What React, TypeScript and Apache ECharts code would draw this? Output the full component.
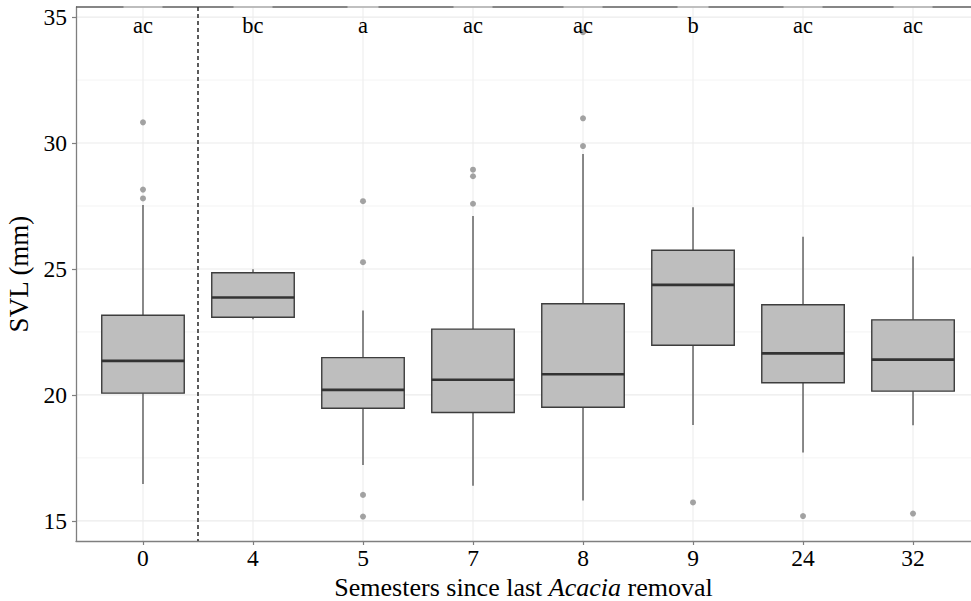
import React, { useEffect, useRef } from "react";
import * as echarts from "echarts";

const categories = ["0", "4", "5", "7", "8", "9", "24", "32"];
const whiskerLow = [16.46, 23.0, 17.22, 16.39, 15.81, 18.81, 17.71, 18.8];
const q1 = [20.07, 23.08, 19.47, 19.3, 19.51, 21.97, 20.48, 20.15];
const median = [21.35, 23.87, 20.2, 20.6, 20.82, 24.37, 21.65, 21.4];
const q3 = [23.16, 24.85, 21.48, 22.61, 23.62, 25.74, 23.58, 22.98];
const whiskerHigh = [27.54, 24.99, 23.35, 27.1, 29.56, 27.45, 26.28, 25.49];
const outliers: [number, number][] = [
  [0, 30.82], [0, 28.15], [0, 27.8],
  [2, 27.69], [2, 25.27], [2, 16.03], [2, 15.17],
  [3, 28.94], [3, 28.68], [3, 27.59],
  [4, 34.4], [4, 30.98], [4, 29.88],
  [5, 15.73],
  [6, 15.19],
  [7, 15.29],
];
const letters = ["ac", "bc", "a", "ac", "ac", "b", "ac", "ac"];
const yTickValues = [15, 20, 25, 30, 35];
const yMinorGrid = [17.5, 22.5, 27.5, 32.5];
const separatorAt = 0.5;

const X_MIN = -0.609;
const X_MAX = 7.527;
const Y_MIN = 14.2;
const Y_MAX = 35.4;
const FONT = '"Liberation Serif", "DejaVu Serif", serif';

export default function App() {
  const ref = useRef<HTMLDivElement>(null);

  useEffect(() => {
    if (!ref.current) return;
    const chart = echarts.init(ref.current, undefined, { renderer: "svg" });

    const boxData = categories.map((_, i) => [i, whiskerLow[i], q1[i], median[i], q3[i], whiskerHigh[i]]);
    // grid lines: kind 0 = vertical (major), 1 = horizontal major, 2 = horizontal minor
    const gridData: number[][] = [
      ...categories.map((_, i) => [0, i]),
      ...yTickValues.map((v) => [1, v]),
      ...yMinorGrid.map((v) => [2, v]),
    ];

    const option: any = {
      animation: false,
      backgroundColor: "#ffffff",
      grid: { left: 76, right: 0, top: 7, bottom: 60, containLabel: false, outerBoundsMode: "none" },
      xAxis: {
        type: "value",
        min: X_MIN,
        max: X_MAX,
        name: "{a|Semesters since last }{i|Acacia}{a| removal}",
        nameLocation: "middle",
        nameGap: 25,
        nameTextStyle: {
          rich: {
            a: { fontFamily: FONT, fontSize: 26, lineHeight: 25, color: "#000" },
            i: { fontFamily: FONT, fontSize: 26, lineHeight: 25, color: "#000", fontStyle: "italic" },
          },
        },
        axisLine: { show: true, onZero: false, lineStyle: { color: "#7f7f7f", width: 1.3 } },
        axisTick: { show: true, length: 4, customValues: categories.map((_, i) => i), lineStyle: { color: "#7f7f7f", width: 1.2 } },
        axisLabel: {
          customValues: categories.map((_, i) => i),
          formatter: (v: number) => categories[Math.round(v)] ?? "",
          fontFamily: FONT,
          fontSize: 23.5,
          color: "#000",
          margin: 5,
        },
        splitLine: { show: false },
      },
      yAxis: {
        type: "value",
        min: Y_MIN,
        max: Y_MAX,
        name: "SVL (mm)",
        nameLocation: "middle",
        nameGap: 39,
        nameTextStyle: { fontFamily: FONT, fontSize: 27, color: "#000" },
        axisLine: { show: true, onZero: false, lineStyle: { color: "#7f7f7f", width: 1.3 } },
        axisTick: { show: true, length: 4, customValues: yTickValues, lineStyle: { color: "#7f7f7f", width: 1.2 } },
        axisLabel: {
          customValues: yTickValues,
          fontFamily: FONT,
          fontSize: 23.5,
          color: "#000",
          margin: 9,
        },
        splitLine: { show: false },
      },
      series: [
        {
          type: "custom",
          name: "grid",
          z: 0,
          silent: true,
          data: gridData,
          renderItem: (params: any, api: any) => {
            const kind = api.value(0);
            const v = api.value(1);
            const cs = params.coordSys;
            if (kind === 0) {
              const p = api.coord([v, Y_MIN]);
              return {
                type: "line",
                shape: { x1: p[0], y1: cs.y, x2: p[0], y2: cs.y + cs.height },
                style: { stroke: "#ebebeb", lineWidth: 1 },
              };
            }
            const p = api.coord([X_MIN, v]);
            return {
              type: "line",
              shape: { x1: cs.x, y1: p[1], x2: cs.x + cs.width, y2: p[1] },
              style: { stroke: kind === 1 ? "#ebebeb" : "#f0f0f0", lineWidth: kind === 1 ? 1.1 : 0.8 },
            };
          },
        },
        {
          type: "custom",
          name: "frame",
          z: 1,
          silent: true,
          data: [[separatorAt, Y_MAX]],
          renderItem: (params: any, api: any) => {
            const cs = params.coordSys;
            const p = api.coord([api.value(0), Y_MAX]);
            return {
              type: "group",
              children: [
                {
                  type: "line",
                  shape: { x1: cs.x, y1: cs.y, x2: cs.x + cs.width, y2: cs.y },
                  style: { stroke: "#5e5e5e", lineWidth: 1.3 },
                },
                {
                  type: "line",
                  shape: { x1: p[0], y1: cs.y, x2: p[0], y2: cs.y + cs.height },
                  style: { stroke: "#333333", lineWidth: 1.6, lineDash: [4, 3] },
                },
              ],
            };
          },
        },
        {
          type: "custom",
          name: "boxes",
          z: 2,
          data: boxData,
          encode: { x: 0, y: [1, 2, 3, 4, 5] },
          renderItem: (params: any, api: any) => {
            const i = api.value(0);
            const lo = api.coord([i, api.value(1)]);
            const b1 = api.coord([i, api.value(2)]);
            const md = api.coord([i, api.value(3)]);
            const b3 = api.coord([i, api.value(4)]);
            const hi = api.coord([i, api.value(5)]);
            const w = api.size([1, 0])[0] * 0.75;
            const x0 = lo[0] - w / 2;
            const wStyle = { stroke: "#5a5a5a", lineWidth: 1.4 };
            return {
              type: "group",
              children: [
                { type: "line", shape: { x1: lo[0], y1: lo[1], x2: b1[0], y2: b1[1] }, style: wStyle },
                { type: "line", shape: { x1: hi[0], y1: hi[1], x2: b3[0], y2: b3[1] }, style: wStyle },
                {
                  type: "rect",
                  shape: { x: x0, y: b3[1], width: w, height: b1[1] - b3[1] },
                  style: { fill: "#bebebe", stroke: "#3d3d3d", lineWidth: 1.4 },
                },
                {
                  type: "line",
                  shape: { x1: x0, y1: md[1], x2: x0 + w, y2: md[1] },
                  style: { stroke: "#333333", lineWidth: 2.6 },
                },
              ],
            };
          },
        },
        {
          type: "scatter",
          name: "outliers",
          z: 3,
          symbol: "circle",
          symbolSize: 6,
          itemStyle: { color: "#8c8c8c" },
          data: outliers,
        },
        {
          type: "custom",
          name: "letters",
          z: 4,
          silent: true,
          data: categories.map((_, i) => [i, Y_MAX]),
          renderItem: (params: any, api: any) => {
            const i = api.value(0);
            const p = api.coord([i, Y_MAX]);
            const txt = letters[i];
            const half = txt.length > 1 ? 19.5 : 15.5;
            return {
              type: "group",
              children: [
                {
                  type: "line",
                  shape: { x1: p[0] - half, y1: p[1], x2: p[0] + half, y2: p[1] },
                  style: { stroke: "#cfcfcf", lineWidth: 1.6 },
                },
                {
                  type: "text",
                  x: p[0],
                  y: p[1] + 18,
                  style: {
                    text: txt,
                    fontFamily: FONT,
                    fontSize: 22.5,
                    fill: "#000",
                    align: "center",
                    verticalAlign: "middle",
                  },
                },
              ],
            };
          },
        },
      ],
    };

    chart.setOption(option);
    return () => chart.dispose();
  }, []);

  return (
    <div
      ref={ref}
      style={{ position: "absolute", left: 0, top: 0, width: 971, height: 601, background: "#fff" }}
    />
  );
}
